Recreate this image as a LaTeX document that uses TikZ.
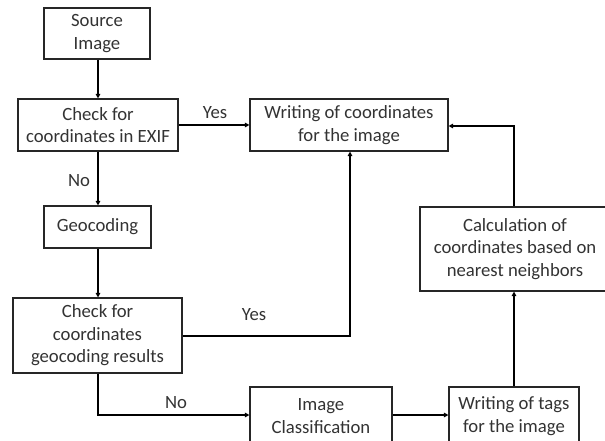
\documentclass[tikz,border=0pt]{standalone}
\usepackage{fontspec}
\setmainfont{Carlito}
\usetikzlibrary{arrows.meta}
\begin{document}
\begin{tikzpicture}[x=1pt,y=-1pt,
  box/.style={draw=black!85, line width=1.1pt, rectangle, align=center, inner sep=0pt,
    font=\fontsize{18.7}{22.5}\selectfont, text=black!80},
  conn/.style={draw=black, line width=1.5pt, -{Triangle[length=4.5pt,width=4.5pt]}},
  lbl/.style={font=\fontsize{18.7}{22}\selectfont, text=black!80, inner sep=0pt}]
\useasboundingbox (0,0) rectangle (605,441);
\clip (0,0) rectangle (605,441);
\fill[white] (0,0) rectangle (605,441);
\node[box, minimum width=106pt, minimum height=51pt] (src) at (97,33.5) {Source\\Image};
\node[box, minimum width=160pt, minimum height=52pt] (exif) at (98,125) {Check for\\coordinates in EXIF};
\node[box, minimum width=198pt, minimum height=52pt] (wc) at (349,125) {Writing of coordinates\\for the image};
\node[box, minimum width=107pt, minimum height=42pt] (geo) at (97.5,227) {Geocoding};
\node[box, minimum width=169pt, minimum height=75pt] (chk) at (97.5,335.5) {Check for\\coordinates\\geocoding results};
\node[box, minimum width=190pt, minimum height=84pt] (calc) at (515,249) {Calculation of\\coordinates based on\\nearest neighbors};
\node[box, minimum width=142pt, minimum height=58pt] (ic) at (321,416) {Image\\Classification};
\node[box, minimum width=130pt, minimum height=58pt] (tags) at (514,416) {Writing of tags\\for the image};
\coordinate (p1) at (350,336);
\coordinate (p2) at (98,415);
\coordinate (p3) at (514,126);
\draw[conn] (src.south -| 98,0) -- (exif.north -| 98,0);
\draw[conn] (exif.east) -- (wc.west);
\node[lbl] (yes1) at (215,113) {Yes};
\draw[conn] (exif.south -| 98,0) -- (geo.north -| 98,0);
\node[lbl] (no1) at (79,181) {No};
\draw[conn] (geo.south -| 98,0) -- (chk.north -| 98,0);
\draw[conn] (chk.east |- p1) -- (p1) -- (wc.south -| p1);
\node[lbl] (yes2) at (254,315) {Yes};
\draw[conn] (chk.south -| p2) -- (p2) -- (ic.west |- p2);
\node[lbl] (no2) at (176,403) {No};
\draw[conn] (ic.east |- p2) -- (tags.west |- p2);
\draw[conn] (tags.north -| p3) -- (calc.south -| p3);
\draw[conn] (calc.north -| p3) -- (p3) -- (wc.east |- p3);
\end{tikzpicture}
\end{document}
